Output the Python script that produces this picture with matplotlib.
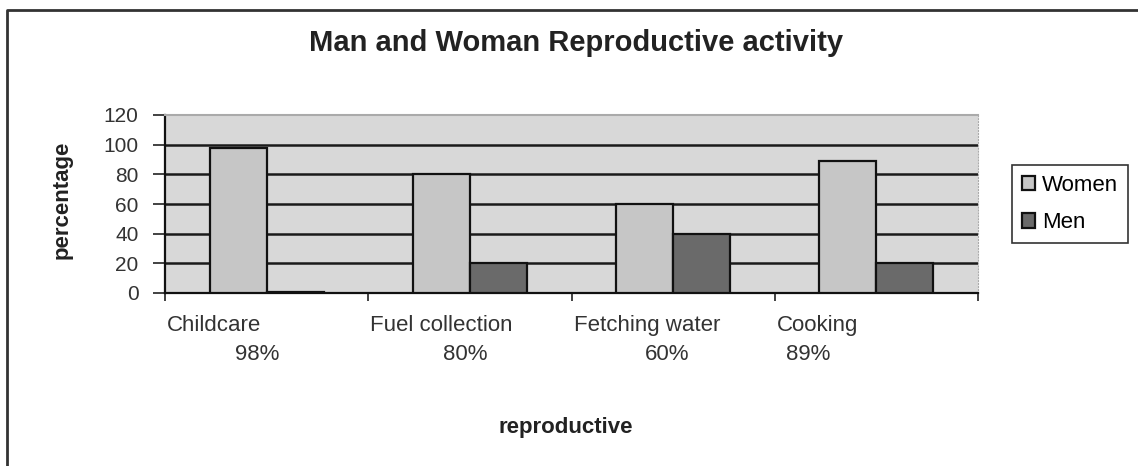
import matplotlib
matplotlib.use("Agg")
import matplotlib.pyplot as plt
import numpy as np
from matplotlib.lines import Line2D

# datos
categorias = ["Childcare", "Fuel collection", "Fetching water", "Cooking"]
porcentajes = ["98%", "80%", "60%", "89%"]
women = [98, 80, 60, 89]
men = [1, 20, 40, 20]
yticks = [0, 20, 40, 60, 80, 100, 120]

plt.rcParams['font.family'] = ['Liberation Sans', 'DejaVu Sans']

fig = plt.figure(figsize=(11.38, 4.66), dpi=100)
fig.patch.set_facecolor("white")

# borde del grafico (solo se ve arriba y a la izquierda)
fig.lines.append(Line2D([7/1138, 7/1138, 1.0], [0.0, 1 - 10/466, 1 - 10/466],
                        transform=fig.transFigure, color="#333333", linewidth=2))

ax = fig.add_axes([165/1138, 1 - 293/466, 813/1138, 178/466])
ax.set_facecolor("#d8d8d8")

x = np.arange(len(categorias))
w = 0.28
ax.bar(x - w/2, women, w, color="#c6c6c6", edgecolor="#111111", linewidth=1.6, label="Women", zorder=3)
ax.bar(x + w/2, men, w, color="#6a6a6a", edgecolor="#111111", linewidth=1.6, label="Men", zorder=3)

ax.set_xlim(-0.5, len(categorias) - 0.5)
ax.set_ylim(0, 120)
ax.set_yticks(yticks)
ax.set_yticklabels([str(v) for v in yticks], fontsize=15, color="#333333")
for v in yticks[1:-1]:
    ax.axhline(v, color="#1a1a1a", linewidth=1.8, zorder=2)

ax.set_xticks(np.arange(len(categorias) + 1) - 0.5)
ax.set_xticklabels([])
ax.tick_params(axis="x", direction="out", length=6, width=1.3, color="#333333")
ax.tick_params(axis="y", direction="out", length=9, width=1.3, color="#333333", pad=10)

ax.spines["left"].set_color("#111111")
ax.spines["left"].set_linewidth(1.6)
ax.spines["bottom"].set_color("#111111")
ax.spines["bottom"].set_linewidth(1.6)
ax.spines["top"].set_color("#aaaaaa")
ax.spines["top"].set_linewidth(1.5)
ax.spines["right"].set_color("#aaaaaa")
ax.spines["right"].set_linestyle(":")

# etiquetas de categorias, alineadas a la izquierda como en excel
pct_offset = [0.345, 0.37, 0.36, 0.055]
for i, (c, p) in enumerate(zip(categorias, porcentajes)):
    ax.text(i - 0.49, -0.18, c, transform=ax.get_xaxis_transform(), ha="left", va="center",
            fontsize=16, color="#333333")
    ax.text(i - 0.5 + pct_offset[i], -0.345, p, transform=ax.get_xaxis_transform(), ha="left",
            va="center", fontsize=16, color="#333333")

fig.text(576/1138, 1 - 43/466, "Man and Woman Reproductive activity", ha="center", va="center",
         fontsize=21, fontweight="bold", color="#222222")
fig.text(566/1138, 1 - 428/466, "reproductive", ha="center", va="center",
         fontsize=16, fontweight="bold", color="#222222")
fig.text(62/1138, 1 - 200/466, "percentage", ha="center", va="center", rotation=90,
         fontsize=16, fontweight="bold", color="#222222")

leg = fig.legend(loc="center", bbox_to_anchor=(1070/1138, 1 - 204/466), fontsize=16,
                 frameon=True, fancybox=False, edgecolor="black", handlelength=0.6,
                 handleheight=0.6, handletextpad=0.3, borderpad=0.45, labelspacing=0.75,
                 borderaxespad=0)
leg.get_frame().set_linewidth(1.2)

fig.savefig("out.png", dpi=100)
